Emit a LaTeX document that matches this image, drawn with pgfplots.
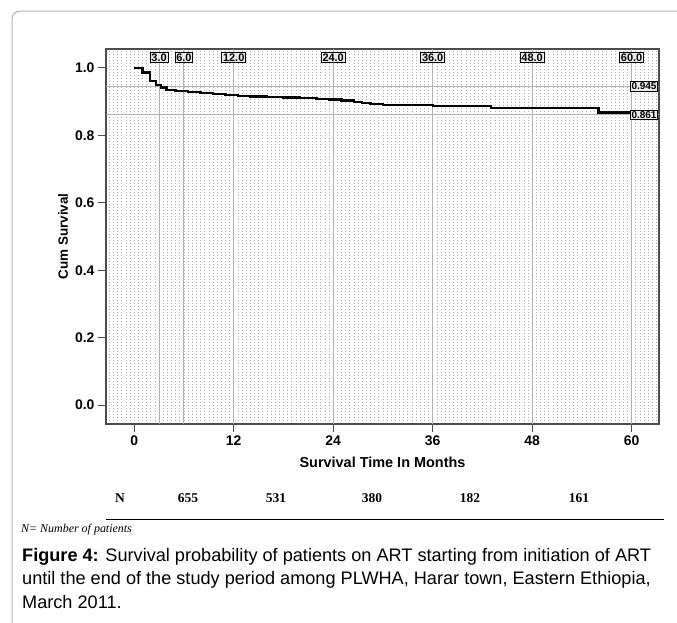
\documentclass[border=0pt]{standalone}
\usepackage{pgfplots}
\pgfplotsset{compat=1.18}
\usepackage{fontspec}
\setmainfont{Liberation Sans}
\newfontfamily\timesfont{Liberation Serif}
\pgfplotstableread{
t s
0 1.000
1.0 0.986
1.9 0.962
2.6 0.950
3.2 0.942
3.9 0.935
5.0 0.932
6.5 0.929
8.0 0.925
9.5 0.922
11.0 0.920
12.5 0.917
14.0 0.915
16.0 0.913
18.0 0.912
20.0 0.910
22.0 0.908
23.5 0.906
25.0 0.903
26.5 0.899
27.5 0.896
28.5 0.893
30.0 0.890
36.0 0.886
43.0 0.882
56.0 0.868
60.0 0.868
}\kmdata
\begin{document}
\begin{tikzpicture}
\useasboundingbox (0,0) rectangle (677bp,-623bp);
\draw[black!30, line width=1bp, rounded corners=8bp] (12bp,-640bp) -- (12bp,-11bp) -- (700bp,-11bp);
\begin{axis}[
  at={(106bp,-49bp)}, anchor=north west,
  width=553bp, height=375bp, scale only axis,
  xmin=-3.4, xmax=63.3, ymin=-0.056, ymax=1.056,
  xtick={0,12,24,36,48,60},
  ytick={0,0.2,0.4,0.6,0.8,1.0},
  minor xtick={-3,-2.5,...,63},
  xminorgrids=true,
  minor grid style={black!32, line width=0.6bp, dash pattern=on 0.9bp off 2.1bp},
  minor tick length=0pt,
  tick align=outside, major tick length=8bp,
  xtick pos=left, ytick pos=left,
  axis line style={black!70, line width=1.2bp},
  major tick style={black!70, line width=1bp},
  /pgf/number format/assume math mode=true,
  ticklabel style={font=\fontsize{14}{16}\selectfont\bfseries},
  yticklabel style={/pgf/number format/.cd, fixed, fixed zerofill, precision=1},
  xlabel={Survival Time In Months},
  xlabel style={font=\fontsize{14.5}{16}\selectfont\bfseries, at={(axis description cs:0.5,-0.101)}, anchor=center},
  ylabel={Cum Survival},
  ylabel style={font=\fontsize{13.5}{15}\selectfont\bfseries, at={(axis description cs:-0.0778,0.5)}, anchor=center, rotate=0},
  clip=false,
]
\foreach \v in {3,6,12,24,36,48,60} {
  \edef\temp{\noexpand\draw[black!30, line width=1bp] (axis cs:\v,-0.056) -- (axis cs:\v,1.056);}
  \temp
}
\draw[black!30, line width=1bp] (axis cs:-3.4,0.945) -- (axis cs:63.3,0.945);
\draw[black!30, line width=1bp] (axis cs:-3.4,0.861) -- (axis cs:63.3,0.861);
\addplot[const plot, black, line width=2.3bp] table[x=t, y=s] {\kmdata};
\foreach \v/\l in {3/3.0,6/6.0,12/12.0,24/24.0,36/36.0,48/48.0,60/60.0} {
  \edef\temp{\noexpand\node[draw=black, line width=0.8bp, fill=black!8, inner sep=1.3bp, anchor=north, font=\noexpand\fontsize{11}{13}\noexpand\selectfont\noexpand\bfseries] at (axis cs:\v,1.048) {\l};}
  \temp
}
\node[draw=black, line width=0.8bp, fill=black!8, inner sep=1.3bp, anchor=east, font=\fontsize{10}{12}\selectfont\bfseries] at (axis cs:63.2,0.945) {0.945};
\node[draw=black, line width=0.8bp, fill=black!8, inner sep=1.3bp, anchor=east, font=\fontsize{10}{12}\selectfont\bfseries] at (axis cs:63.2,0.861) {0.861};
\end{axis}
\begin{scope}[every node/.style={font=\timesfont\fontsize{13.5}{15}\selectfont\bfseries, anchor=center}]
\node at (120bp,-498bp) {N};
\node at (188bp,-498bp) {655};
\node at (276bp,-498bp) {531};
\node at (372bp,-498bp) {380};
\node at (470bp,-498bp) {182};
\node at (579bp,-498bp) {161};
\end{scope}
\draw[black, line width=1bp] (106bp,-519bp) -- (664bp,-519bp);
\node[anchor=west, font=\timesfont\itshape\fontsize{12}{14}\selectfont, inner sep=0pt] at (21bp,-530bp) {N= Number of patients};
\node[anchor=base west, align=left, inner sep=0pt, font=\fontsize{18.2}{23.5}\selectfont] at (22bp,-608bp) {\textbf{Figure 4:} Survival probability of patients on ART starting from initiation of ART\\until the end of the study period among PLWHA, Harar town, Eastern Ethiopia,\\March 2011.};
\end{tikzpicture}
\end{document}
